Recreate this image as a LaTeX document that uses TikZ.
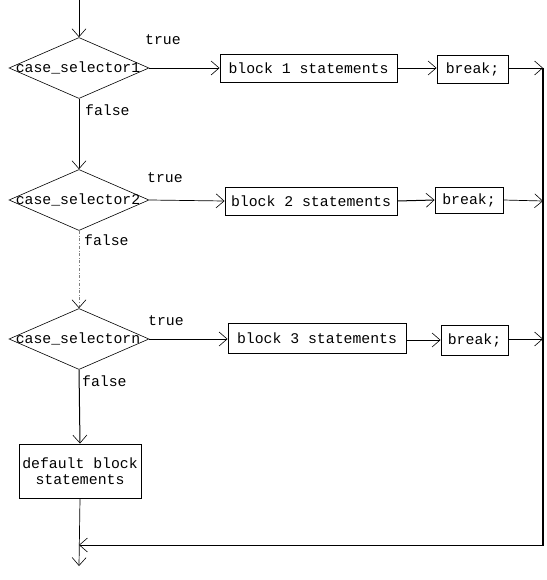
\documentclass[tikz,border=0pt]{standalone}
\usepackage{fontspec}
\setmonofont{Liberation Mono}
\usetikzlibrary{shapes.geometric,arrows.meta}
\begin{document}
\begin{tikzpicture}[x=1pt,y=-1pt,
  txt/.style={font=\ttfamily\fontsize{14.8}{16}\selectfont, inner sep=0pt},
  dia/.style={draw, shape=diamond, minimum width=140pt, minimum height=61pt, inner sep=0pt, line width=0.6pt},
  box/.style={draw, line width=0.9pt, inner sep=0pt, font=\ttfamily\fontsize{14.8}{16}\selectfont},
  arr/.style={line width=0.7pt, -{Straight Barb[length=8pt,width=14pt,line width=0.6pt]}},
  ln/.style={line width=0.7pt}]
\useasboundingbox (0,0) rectangle (546,580);
% top
\coordinate (start) at (79,0);
\node[dia] (d1) at (79,68) {};
\node[txt] at (78,68) {case\_selector1};
\node[dia] (d2) at (79,200) {};
\node[txt] at (78,200) {case\_selector2};
\node[dia] (d3) at (79,339) {};
\node[txt] at (78,339) {case\_selectorn};
% blocks
\node[box, minimum width=177pt, minimum height=28pt] (b1) at (308.5,68) {block 1 statements};
\node[box, minimum width=172pt, minimum height=28pt] (b2) at (311,201) {block 2 statements};
\node[box, minimum width=178pt, minimum height=30pt] (b3) at (317,338) {block 3 statements};
\node[box, minimum width=71pt, minimum height=28pt] (k1) at (472.5,69) {break;};
\node[box, minimum width=68pt, minimum height=26pt] (k2) at (469,200) {break;};
\node[box, minimum width=67pt, minimum height=30pt] (k3) at (474.5,340) {break;};
\node[box, minimum width=122pt, minimum height=54pt, align=center] (def) at (80,471) {default block\\statements};
% labels
\node[txt, anchor=west] at (145,40) {true};
\node[txt, anchor=west] at (85,110) {false};
\node[txt, anchor=west] at (147,178) {true};
\node[txt, anchor=west] at (84,240) {false};
\node[txt, anchor=west] at (148,321) {true};
\node[txt, anchor=west] at (82,381) {false};
% right rail coordinates
\coordinate (r1) at (543,68);
\coordinate (r2) at (543,201);
\coordinate (r3) at (543,339);
\coordinate (r4) at (543,545);
\coordinate (ret) at (79,545);
\coordinate (finish) at (79,566);
% connectors
\draw[arr, line width=1pt] (start) -- (d1.north);
\draw[arr] (d1.east) -- (b1.west);
\draw[arr] (b1.east) -- (k1.west |- b1.east);
\draw[arr] (k1.east |- r1) -- (r1);
\draw[arr] (d2.east) -- (b2.west);
\draw[arr, line width=1pt] (b2.east) -- (k2.west);
\draw[arr] (k2.east) -- (r2);
\draw[arr] (d3.east) -- (b3.west |- d3.east);
\draw[arr] (b3.east |- k3.west) -- (k3.west);
\draw[arr, line width=1pt] (k3.east |- r3) -- (r3);
\draw[arr] (d1.south) -- (d2.north);
\draw[gray, dash dot, line width=0.7pt, -{Straight Barb[length=8pt,width=14pt,line width=0.6pt,color=black]}] (d2.south) -- (d3.north);
\draw[arr, line width=1pt] (d3.south) -- (def.north);
\draw[arr] (def.south) -- (finish);
\draw[arr, line width=0.8pt] (r1) -- (r4) -- (ret);
\draw[line width=1.6pt] (r1) -- (r4);
\end{tikzpicture}
\end{document}
